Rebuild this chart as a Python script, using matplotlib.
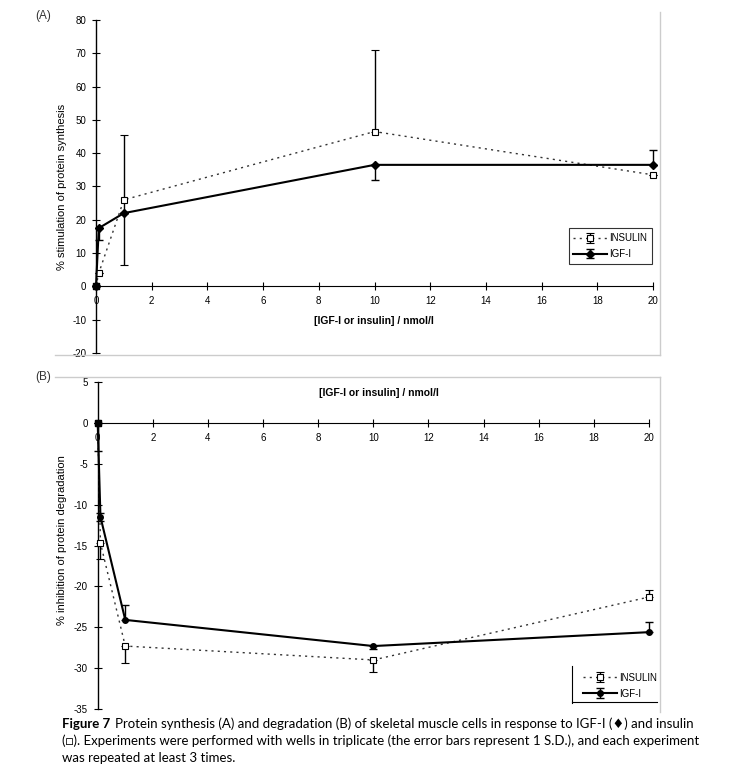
import matplotlib
matplotlib.use('Agg')
import matplotlib.pyplot as plt
from matplotlib.lines import Line2D

# フォント設定
plt.rcParams['font.family'] = ['Liberation Sans', 'DejaVu Sans']
plt.rcParams['axes.unicode_minus'] = False

W, H = 729, 771

# データ (IGF-I / insulin 濃度, nmol/l)
conc = [0, 0.1, 1, 10, 20]

# (A) protein synthesis
igf_syn = [0, 17.5, 22.0, 36.5, 36.5]
igf_syn_lo = [0, 3.5, 0, 4.5, 0]
igf_syn_hi = [0, 0, 0, 0, 4.5]
ins_syn = [0, 4.0, 26.0, 46.5, 33.5]
ins_syn_lo = [0, 0, 19.5, 0, 0]
ins_syn_hi = [0, 0, 19.5, 24.5, 0]

# (B) protein degradation
igf_deg = [0, -11.5, -24.1, -27.3, -25.6]
igf_deg_lo = [3.5, 0.5, 0, 0.3, 0]
igf_deg_hi = [0, 0.5, 1.8, 0, 1.3]
ins_deg = [0, -14.7, -27.3, -29.0, -21.3]
ins_deg_lo = [0, 2.0, 2.1, 1.5, 0]
ins_deg_hi = [0, 0, 0, 0, 0.8]

x_ticks = list(range(0, 21, 2))
labels = ['INSULIN', 'IGF-I']
xlabel = '[IGF-I or insulin] / nmol/l'


def px_rect(l, t, r, b):
    return [l / W, 1 - b / H, (r - l) / W, (b - t) / H]


def fig_line(xs, ys, **kw):
    fig.add_artist(Line2D([x / W for x in xs], [1 - y / H for y in ys], **kw))


def style_axes(ax, ylim, yticks):
    ax.set_xlim(0, 20)
    ax.set_ylim(*ylim)
    ax.set_yticks(yticks)
    ax.set_xticks(x_ticks)
    ax.spines['top'].set_visible(False)
    ax.spines['right'].set_visible(False)
    ax.spines['bottom'].set_position(('data', 0))
    ax.spines['left'].set_linewidth(1.0)
    ax.spines['bottom'].set_linewidth(0.8)
    ax.tick_params(axis='both', direction='inout', length=6, width=0.8,
                   labelsize=7, colors='black', pad=4)
    ax.patch.set_alpha(0)


def draw_series(ax, y_ins, lo_ins, hi_ins, y_igf, lo_igf, hi_igf, igf_marker):
    ax.errorbar(conc, y_ins, yerr=[lo_ins, hi_ins], color='#333333', ls=(0, (1.5, 3)),
                lw=1.0, marker='s', ms=4, mfc='white', mec='black', mew=0.8,
                ecolor='black', elinewidth=1.0, capsize=3, clip_on=False,
                label=labels[0], zorder=3)
    ax.errorbar(conc, y_igf, yerr=[lo_igf, hi_igf], color='black', ls='-',
                lw=1.5, marker=igf_marker, ms=4, mfc='black', mec='black',
                ecolor='black', elinewidth=1.0, capsize=3, clip_on=False,
                label=labels[1], zorder=4)
    # x = 0 の点は黒い四角
    ax.plot([0], [0], marker='s', ms=4, color='black', clip_on=False, zorder=5)


fig = plt.figure(figsize=(W / 100, H / 100), dpi=100)

# (A)
axA = fig.add_axes(px_rect(96, 20, 653, 353))
style_axes(axA, (-20, 80), range(-20, 81, 10))
draw_series(axA, ins_syn, ins_syn_lo, ins_syn_hi, igf_syn, igf_syn_lo, igf_syn_hi, 'D')
legA = axA.legend(loc='lower right', bbox_to_anchor=(1.0 + 4 / 557, 0.253),
                  fontsize=7, frameon=True, fancybox=False, handlelength=3.5,
                  borderpad=0.5, labelspacing=0.6, handletextpad=0.2)
legA.get_frame().set_edgecolor('black')
legA.get_frame().set_linewidth(0.8)
fig.text(374 / W, 1 - 321 / H, xlabel, fontsize=7.5, fontweight='bold',
         ha='center', va='center')
fig.text(62 / W, 1 - 187 / H, '% stimulation of protein synthesis', fontsize=8,
         rotation=90, ha='center', va='center')
fig.text(35 / W, 1 - 16 / H, '(A)', fontsize=8.5, ha='left', va='center', color='#333333')

# (B)
axB = fig.add_axes(px_rect(97.7, 382, 649, 709))
style_axes(axB, (-35, 5), range(-35, 6, 5))
draw_series(axB, ins_deg, ins_deg_lo, ins_deg_hi, igf_deg, igf_deg_lo, igf_deg_hi, 'o')
legB = axB.legend(loc='upper left', bbox_to_anchor=(574 / W, 1 - 664 / H),
                  bbox_transform=fig.transFigure,
                  fontsize=7, frameon=False, handlelength=3.5,
                  borderpad=0.4, labelspacing=0.6, handletextpad=0.2)
fig_line([572, 572], [666, 703], color='black', lw=0.8)
fig_line([572, 657], [702, 702], color='black', lw=0.8)
fig.text(379 / W, 1 - 393 / H, xlabel, fontsize=7.5, fontweight='bold',
         ha='center', va='center')
fig.text(62 / W, 1 - 540 / H, '% inhibition of protein degradation', fontsize=8,
         rotation=90, ha='center', va='center')
fig.text(35 / W, 1 - 377 / H, '(B)', fontsize=8.5, ha='left', va='center', color='#333333')

# グラフ領域の薄い枠線
grey = '#cccccc'
for xs, ys in [([660, 660], [12, 355]), ([55, 660], [355, 355]),
               ([55, 660], [377, 377]), ([660, 660], [377, 712])]:
    fig_line(xs, ys, color=grey, lw=1.0)

# キャプション
cap_font = ['Lato', 'DejaVu Sans']
cap_size = 9.5
t0 = fig.text(62 / W, 1 - 724 / H, 'Figure 7', fontsize=cap_size, fontweight='bold',
              family=cap_font, ha='left', va='center')
fig.canvas.draw()
bb = t0.get_window_extent()
fig.text((bb.x1 + 5) / W, 1 - 724 / H,
         'Protein synthesis (A) and degradation (B) of skeletal muscle cells in response to IGF-I (\u2666) and insulin',
         fontsize=cap_size, family=cap_font, ha='left', va='center')
fig.text(62 / W, 1 - 741 / H,
         '(\u25a1). Experiments were performed with wells in triplicate (the error bars represent 1 S.D.), and each experiment',
         fontsize=cap_size, family=cap_font, ha='left', va='center')
fig.text(62 / W, 1 - 758 / H, 'was repeated at least 3 times.',
         fontsize=cap_size, family=cap_font, ha='left', va='center')

fig.savefig('out.png', dpi=100)
